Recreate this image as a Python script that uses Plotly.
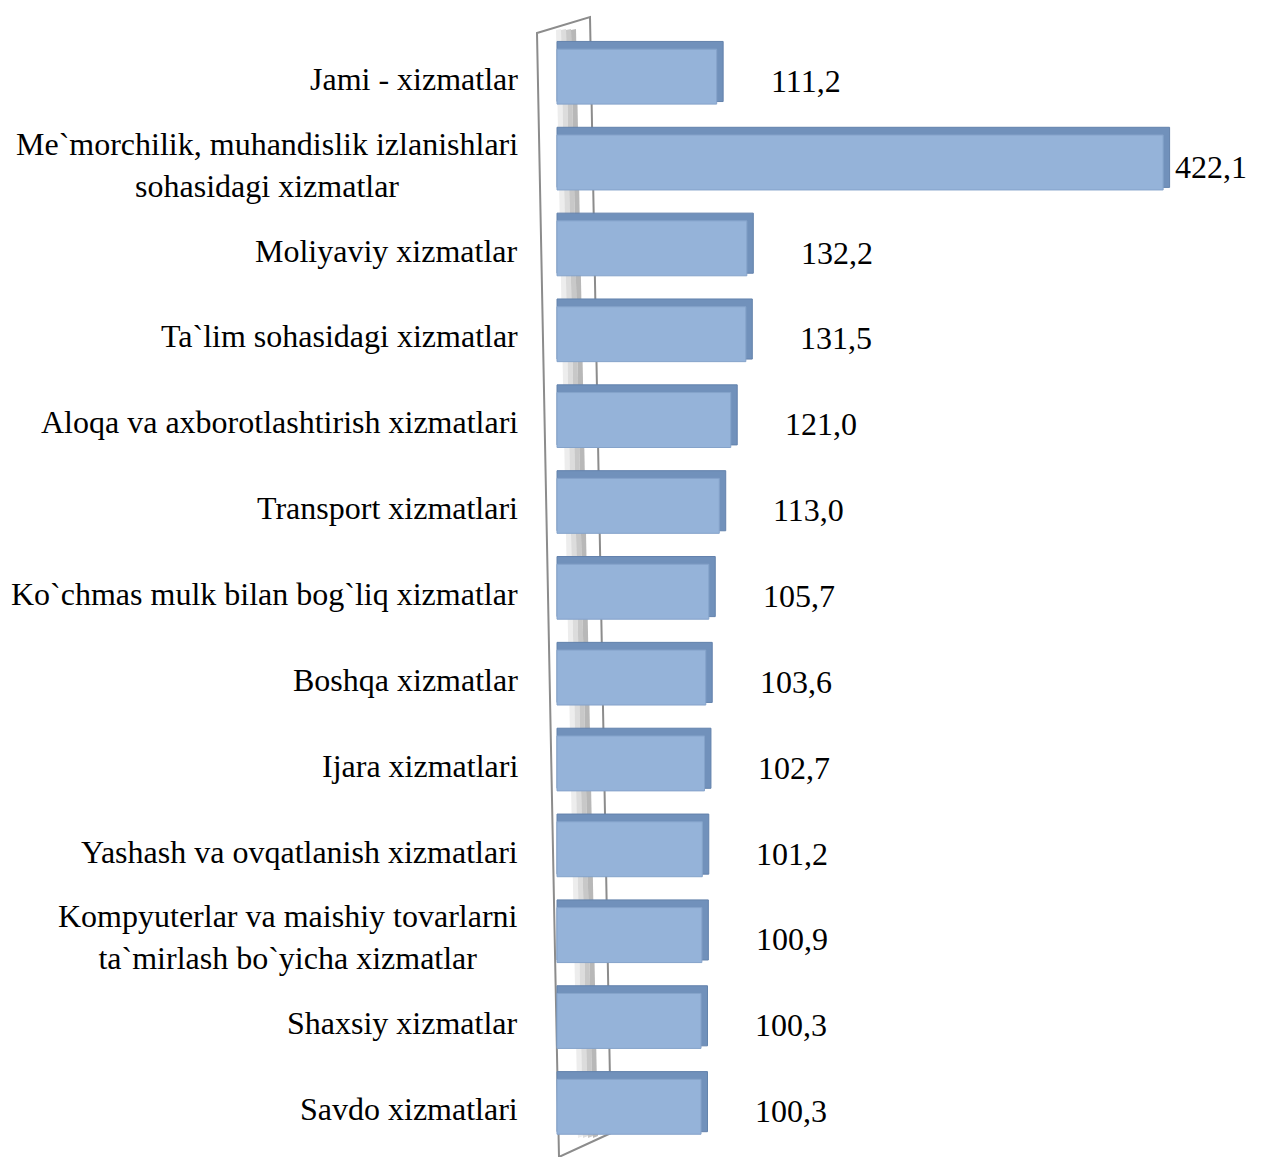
import plotly.graph_objects as go

categories = [
    "Jami - xizmatlar",
    "Me`morchilik, muhandislik izlanishlari<br>sohasidagi xizmatlar",
    "Moliyaviy xizmatlar",
    "Ta`lim sohasidagi xizmatlar",
    "Aloqa va axborotlashtirish xizmatlari",
    "Transport xizmatlari",
    "Ko`chmas mulk bilan bog`liq xizmatlar",
    "Boshqa xizmatlar",
    "Ijara xizmatlari",
    "Yashash va ovqatlanish xizmatlari",
    "Kompyuterlar va maishiy tovarlarni<br>ta`mirlash bo`yicha xizmatlar",
    "Shaxsiy xizmatlar",
    "Savdo xizmatlari",
]
values = [111.2, 422.1, 132.2, 131.5, 121.0, 113.0, 105.7, 103.6, 102.7, 101.2, 100.9, 100.3, 100.3]

FONT = "Liberation Serif"
W, H = 1280, 1157
PAGE = 8          # default page margin of the html body
T, B = 24, 17
PH = H - T - B
X0 = 557          # page-x pixel of value 0
K = 1.436         # pixels per unit


def px(x):
    return (x - PAGE) / W


def py(y):
    return (H - B + PAGE - y) / PH


fig = go.Figure()
# depth (top/right side of the 3D box)
fig.add_trace(go.Bar(
    y=categories, x=[v + 4.5 for v in values], orientation="h",
    width=0.70, offset=-0.39,
    marker=dict(color="#7191BB", line=dict(color="#6382AC", width=1)),
    hoverinfo="skip", showlegend=False,
))
# front face
fig.add_trace(go.Bar(
    y=categories, x=values, orientation="h",
    width=0.64, offset=-0.30,
    marker=dict(color="#95B3D9", line=dict(color="#85A3CA", width=1)),
    showlegend=False,
))

vmax = max(values)
for c, v in zip(categories, values):
    fig.add_annotation(
        x=v, y=c, xref="x", yref="y", xanchor="left", yanchor="middle",
        text=f"{v:.1f}".replace(".", ","), showarrow=False,
        xshift=10 if v == vmax else 52, yshift=-6,
        font=dict(family=FONT, size=32, color="black"),
    )
    fig.add_annotation(
        x=px(520), y=c, xref="paper", yref="y", xanchor="right", yanchor="middle",
        text=c, align="center", showarrow=False, yshift=-4,
        font=dict(family=FONT, size=32, color="black"),
    )

# back wall (decorative)
fig.add_shape(type="path", xref="paper", yref="paper",
              path=(f"M {px(537)},{py(33)} L {px(590)},{py(17)} L {px(611)},{py(1133)} "
                    f"L {px(559)},{py(1157)} Z"),
              fillcolor="white", line=dict(color="#8C8C8C", width=2), layer="below")
for x_off, col in [(0, "#EDEDED"), (5, "#DCDCDC"), (10, "#C8C8C8"), (15, "#B8B8B8")]:
    fig.add_shape(type="path", xref="paper", yref="paper",
                  path=(f"M {px(556 + x_off)},{py(30)} L {px(561 + x_off)},{py(29)} "
                        f"L {px(583 + x_off)},{py(1136)} L {px(578 + x_off)},{py(1138)} Z"),
                  fillcolor=col, line=dict(width=0), layer="below")

fig.update_layout(
    width=W, height=H,
    margin=dict(l=0, r=0, t=T, b=B),
    paper_bgcolor="white", plot_bgcolor="rgba(0,0,0,0)",
    barmode="overlay",
    xaxis=dict(range=[-(X0 - PAGE) / K, (W - X0 + PAGE) / K], visible=False),
    yaxis=dict(autorange="reversed", showticklabels=False, showgrid=False,
               zeroline=False, showline=False),
)

fig.write_html("out.html")
